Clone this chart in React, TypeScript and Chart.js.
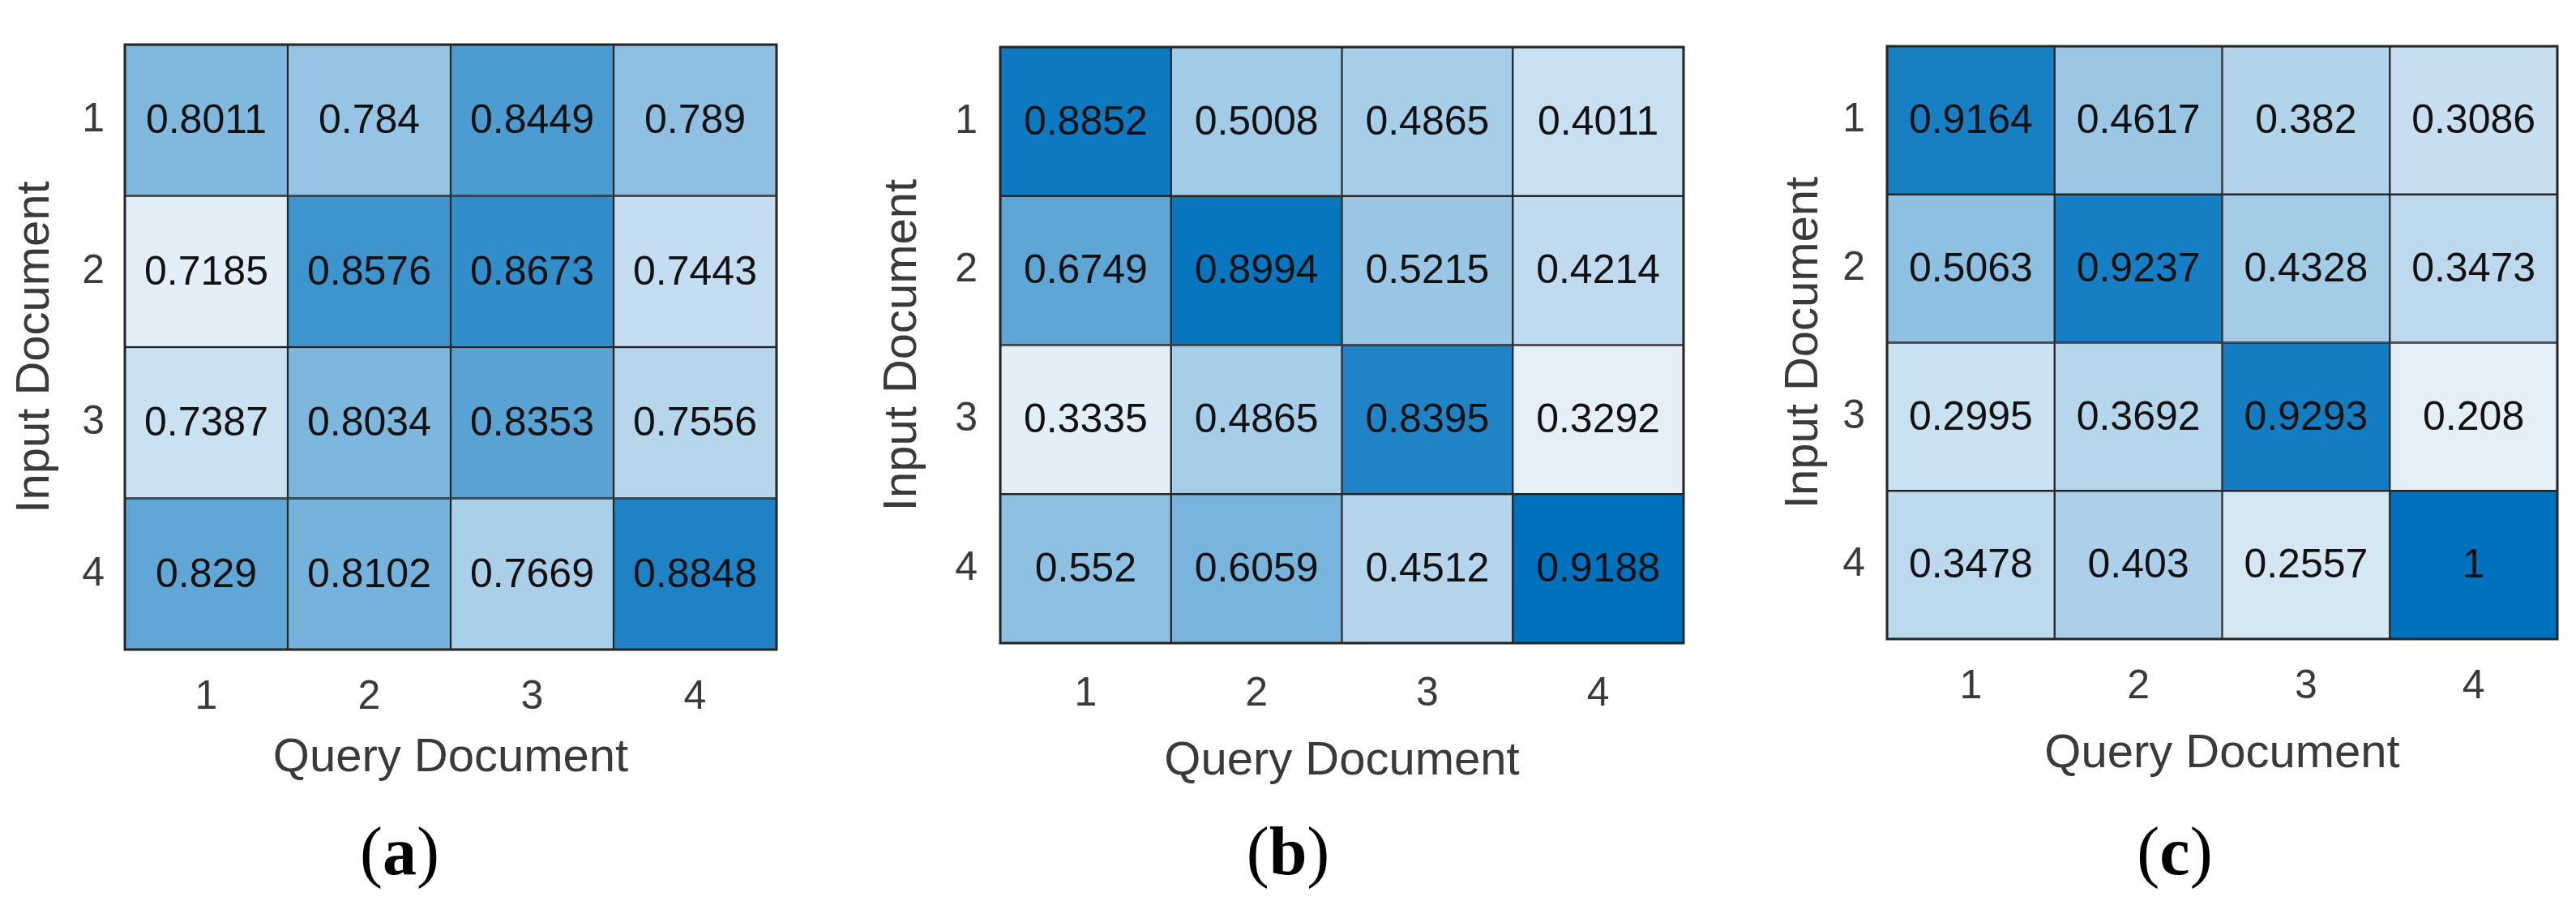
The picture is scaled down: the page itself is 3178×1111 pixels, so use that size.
import React, { useEffect, useRef } from 'react';
import { Chart, registerables } from 'chart.js';

Chart.register(...registerables);

// ---------- data ----------
const QUERY_LABELS = ['1', '2', '3', '4'];
const INPUT_LABELS = ['1', '2', '3', '4'];

const VALUES_A = [
  [0.8011, 0.784, 0.8449, 0.789],
  [0.7185, 0.8576, 0.8673, 0.7443],
  [0.7387, 0.8034, 0.8353, 0.7556],
  [0.829, 0.8102, 0.7669, 0.8848],
];
const VALUES_B = [
  [0.8852, 0.5008, 0.4865, 0.4011],
  [0.6749, 0.8994, 0.5215, 0.4214],
  [0.3335, 0.4865, 0.8395, 0.3292],
  [0.552, 0.6059, 0.4512, 0.9188],
];
const VALUES_C = [
  [0.9164, 0.4617, 0.382, 0.3086],
  [0.5063, 0.9237, 0.4328, 0.3473],
  [0.2995, 0.3692, 0.9293, 0.208],
  [0.3478, 0.403, 0.2557, 1],
];
// colour-scale limits of each panel
const COLOR_LIMITS = [
  [0.717, 0.91],
  [0.3292, 0.9188],
  [0.208, 1],
];
const PANEL_LETTERS = ['a', 'b', 'c'];
const X_TITLE = 'Query Document';
const Y_TITLE = 'Input Document';

// ---------- styles ----------
const LOW_RGB = [228, 239, 248];
const HIGH_RGB = [0, 114, 189];
const LINE_COLOR = '#262626';
const AXIS_TEXT = '#3a3a3a';
const CELL_TEXT = '#111111';
const SANS = "'Liberation Sans', Arial, Helvetica, sans-serif";

const CANVAS_W = 1060;
const CANVAS_H = 1000;

type Layout = {
  left: number;
  area: { l: number; t: number; r: number; b: number };
  yTickPad: number;
  yTitlePad: number;
  xTickPad: number;
  xTitlePad: number;
  labelX: number;
};

const LAYOUTS: Layout[] = [
  { left: 0, area: { l: 154, t: 27, r: 958, b: 801 }, yTickPad: 25, yTitlePad: 9, xTickPad: 29, xTitlePad: 30, labelX: 493 },
  { left: 1060, area: { l: 174, t: 26, r: 1017, b: 793 }, yTickPad: 28, yTitlePad: 19, xTickPad: 33, xTitlePad: 26, labelX: 1589 },
  { left: 2118, area: { l: 210, t: 24, r: 1037, b: 788 }, yTickPad: 27, yTitlePad: 73, xTickPad: 29, xTitlePad: 35, labelX: 2683 },
];

function colorFor(v: number, lo: number, hi: number) {
  let t = hi > lo ? (v - lo) / (hi - lo) : 1;
  t = Math.max(0, Math.min(1, t));
  const c = LOW_RGB.map((l, i) => Math.round(l + (HIGH_RGB[i] - l) * t));
  return `rgb(${c[0]},${c[1]},${c[2]})`;
}

function Heatmap({ values, limits, layout }: { values: number[][]; limits: number[]; layout: Layout }) {
  const ref = useRef<HTMLCanvasElement | null>(null);
  useEffect(() => {
    const canvas = ref.current;
    if (!canvas) return;
    const [lo, hi] = limits;
    const { area } = layout;

    const datasets = INPUT_LABELS.map((_, r) => ({
      label: INPUT_LABELS[r],
      data: QUERY_LABELS.map(() => [r + 0.5, r + 1.5]),
      backgroundColor: values[r].map((v) => colorFor(v, lo, hi)),
      borderColor: LINE_COLOR,
      borderWidth: 1.5,
      borderSkipped: false,
      grouped: false,
      categoryPercentage: 1,
      barPercentage: 1,
    }));

    const cellText = {
      id: 'cellText',
      afterDatasetsDraw(chart: any) {
        const ctx = chart.ctx;
        ctx.save();
        ctx.fillStyle = CELL_TEXT;
        ctx.font = `50px ${SANS}`;
        ctx.textAlign = 'center';
        ctx.textBaseline = 'middle';
        chart.data.datasets.forEach((_: any, r: number) => {
          const meta = chart.getDatasetMeta(r);
          meta.data.forEach((el: any, c: number) => {
            const p = el.getProps(['x', 'y', 'base'], true);
            ctx.fillText(String(values[r][c]), p.x, (p.y + p.base) / 2 + 2);
          });
        });
        const ca = chart.chartArea;
        ctx.strokeStyle = LINE_COLOR;
        ctx.lineWidth = 3;
        ctx.strokeRect(ca.left, ca.top, ca.right - ca.left, ca.bottom - ca.top);
        ctx.restore();
      },
    };

    const chart = new Chart(canvas, {
      type: 'bar',
      data: { labels: QUERY_LABELS, datasets: datasets as any },
      options: {
        animation: false,
        responsive: false,
        maintainAspectRatio: false,
        devicePixelRatio: 1,
        layout: {
          padding: { left: 0, top: area.t, right: CANVAS_W - area.r, bottom: 0 },
        },
        plugins: {
          legend: { display: false },
          tooltip: { enabled: false },
          title: { display: false },
        },
        scales: {
          x: {
            type: 'category',
            offset: true,
            grid: { display: false, drawTicks: false },
            border: { display: false },
            ticks: {
              color: AXIS_TEXT,
              font: { family: SANS, size: 50 },
              padding: layout.xTickPad,
              maxRotation: 0,
              autoSkip: false,
            },
            title: {
              display: true,
              text: X_TITLE,
              color: AXIS_TEXT,
              font: { family: SANS, size: 58 },
              padding: { top: 0, bottom: layout.xTitlePad },
            },
            afterFit: (scale: any) => {
              scale.height = CANVAS_H - area.b;
            },
          },
          y: {
            type: 'linear',
            min: 0.5,
            max: 4.5,
            reverse: true,
            grid: { display: false, drawTicks: false },
            border: { display: false },
            afterBuildTicks: (scale: any) => {
              scale.ticks = INPUT_LABELS.map((_, i) => ({ value: i + 1 }));
            },
            ticks: {
              color: AXIS_TEXT,
              font: { family: SANS, size: 50 },
              padding: layout.yTickPad,
              callback: (v: any) => INPUT_LABELS[Math.round(Number(v)) - 1] ?? '',
            },
            title: {
              display: true,
              text: Y_TITLE,
              color: AXIS_TEXT,
              font: { family: SANS, size: 58 },
              padding: { top: layout.yTitlePad, bottom: 0 },
            },
            afterFit: (scale: any) => {
              scale.width = area.l;
            },
          },
        },
      },
      plugins: [cellText],
    });
    return () => chart.destroy();
  }, [values, limits, layout]);

  return (
    <canvas
      ref={ref}
      width={CANVAS_W}
      height={CANVAS_H}
      style={{ position: 'absolute', left: layout.left, top: 0, width: CANVAS_W, height: CANVAS_H }}
    />
  );
}

const PANEL_VALUES = [VALUES_A, VALUES_B, VALUES_C];

export default function App() {
  return (
    <div style={{ position: 'absolute', left: 0, top: 0, width: 3178, height: 1111, background: '#fff', overflow: 'hidden' }}>
      {PANEL_VALUES.map((vals, i) => (
        <Heatmap key={i} values={vals} limits={COLOR_LIMITS[i]} layout={LAYOUTS[i]} />
      ))}
      {PANEL_LETTERS.map((letter, i) => (
        <div
          key={'lbl' + i}
          style={{
            position: 'absolute',
            left: LAYOUTS[i].labelX,
            top: 1050,
            transform: 'translate(-50%, -50%)',
            fontFamily: "'Liberation Serif', 'Times New Roman', serif",
            fontSize: 84,
            lineHeight: 1,
            color: '#000',
            whiteSpace: 'nowrap',
          }}
        >
          (<b>{letter}</b>)
        </div>
      ))}
    </div>
  );
}
